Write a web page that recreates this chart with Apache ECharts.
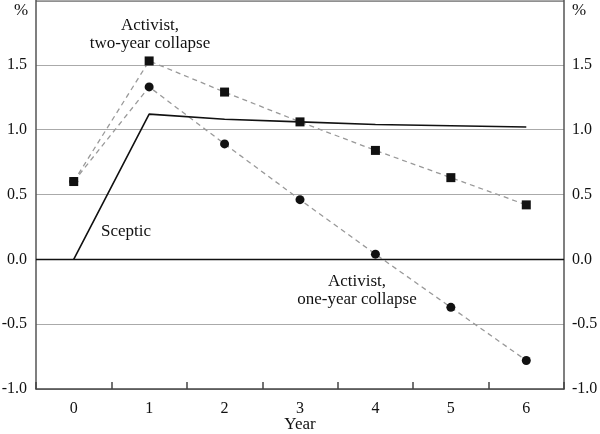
<!DOCTYPE html>
<html>
<head>
<meta charset="utf-8">
<script src="https://cdn.jsdelivr.net/npm/echarts@6/dist/echarts.min.js"></script>
<style>html,body{margin:0;padding:0;background:#fff}#c{width:600px;height:434px}</style>
</head>
<body>
<div id="c"></div>
<script>
var years = ['0', '1', '2', '3', '4', '5', '6'];
var sceptic = [0.0, 1.12, 1.08, 1.06, 1.04, 1.03, 1.02];
var twoYear = [0.60, 1.53, 1.29, 1.06, 0.84, 0.63, 0.42];
var oneYear = [0.60, 1.33, 0.89, 0.46, 0.04, -0.37, -0.78];
var yTicks = [-1.0, -0.5, 0.0, 0.5, 1.0, 1.5];

var font = 'Liberation Serif';
var chart = echarts.init(document.getElementById('c'), null, {renderer: 'canvas'});
function fmt(v) {
  for (var i = 0; i < yTicks.length; i++) { if (Math.abs(yTicks[i] - v) < 1e-9) return yTicks[i].toFixed(1); }
  return '';
}
var lbl = {formatter: fmt, fontFamily: font, fontSize: 16, color: '#111'};
var yCommon = {
  type: 'value', min: -1, max: 2, interval: 0.5,
  axisLine: {show: true, lineStyle: {color: '#555', width: 1.5}},
  axisTick: {show: false},
  splitLine: {show: true, lineStyle: {color: '#aaa', width: 1}}
};
var tf = '17px "Liberation Serif"';
chart.setOption({
  animation: false,
  grid: {left: 36, right: 36, top: 0, bottom: 45, outerBoundsMode: 'none', containLabel: false},
  xAxis: {
    type: 'category', data: years, boundaryGap: true,
    axisLine: {show: true, onZero: false, lineStyle: {color: '#444', width: 1.5}},
    axisTick: {show: true, inside: true, length: 7, lineStyle: {color: '#444', width: 1.5}},
    axisLabel: {fontFamily: font, fontSize: 16, color: '#111', margin: 12}
  },
  yAxis: [
    Object.assign({}, yCommon, {position: 'left', axisLabel: Object.assign({}, lbl, {margin: 9})}),
    Object.assign({}, yCommon, {position: 'right', splitLine: {show: false}, axisLabel: Object.assign({}, lbl, {margin: 8})})
  ],
  graphic: [
    {type: 'line', shape: {x1: 36, y1: 0.75, x2: 564, y2: 0.75}, style: {stroke: '#222', lineWidth: 1.5}},
    {type: 'text', x: 21, y: 11, style: {text: '%', font: tf, fill: '#111', align: 'center', verticalAlign: 'middle'}},
    {type: 'text', x: 579, y: 11, style: {text: '%', font: tf, fill: '#111', align: 'center', verticalAlign: 'middle'}},
    {type: 'text', x: 300, y: 425, style: {text: 'Year', font: tf, fill: '#111', align: 'center', verticalAlign: 'middle'}},
    {type: 'text', x: 150, y: 26, style: {text: 'Activist,', font: tf, fill: '#111', align: 'center', verticalAlign: 'middle'}},
    {type: 'text', x: 150, y: 44, style: {text: 'two-year collapse', font: tf, fill: '#111', align: 'center', verticalAlign: 'middle'}},
    {type: 'text', x: 101, y: 232, style: {text: 'Sceptic', font: tf, fill: '#111', align: 'left', verticalAlign: 'middle'}},
    {type: 'text', x: 357, y: 282, style: {text: 'Activist,', font: tf, fill: '#111', align: 'center', verticalAlign: 'middle'}},
    {type: 'text', x: 357, y: 300, style: {text: 'one-year collapse', font: tf, fill: '#111', align: 'center', verticalAlign: 'middle'}}
  ],
  series: [
    {name: 'Activist, two-year collapse', type: 'line', data: twoYear, symbol: 'rect', symbolSize: 9,
     itemStyle: {color: '#111'}, lineStyle: {color: '#999', width: 1.3, type: [5, 4]}, z: 3},
    {name: 'Activist, one-year collapse', type: 'line', data: oneYear, symbol: 'circle', symbolSize: 9,
     itemStyle: {color: '#111'}, lineStyle: {color: '#999', width: 1.3, type: [5, 4]}, z: 3},
    {name: 'Sceptic', type: 'line', data: sceptic, symbol: 'none',
     lineStyle: {color: '#111', width: 1.6}, z: 4,
     markLine: {silent: true, symbol: 'none', label: {show: false},
       lineStyle: {color: '#111', width: 1.3, type: 'solid'}, data: [{yAxis: 0}]}}
  ]
});
</script>
</body>
</html>
